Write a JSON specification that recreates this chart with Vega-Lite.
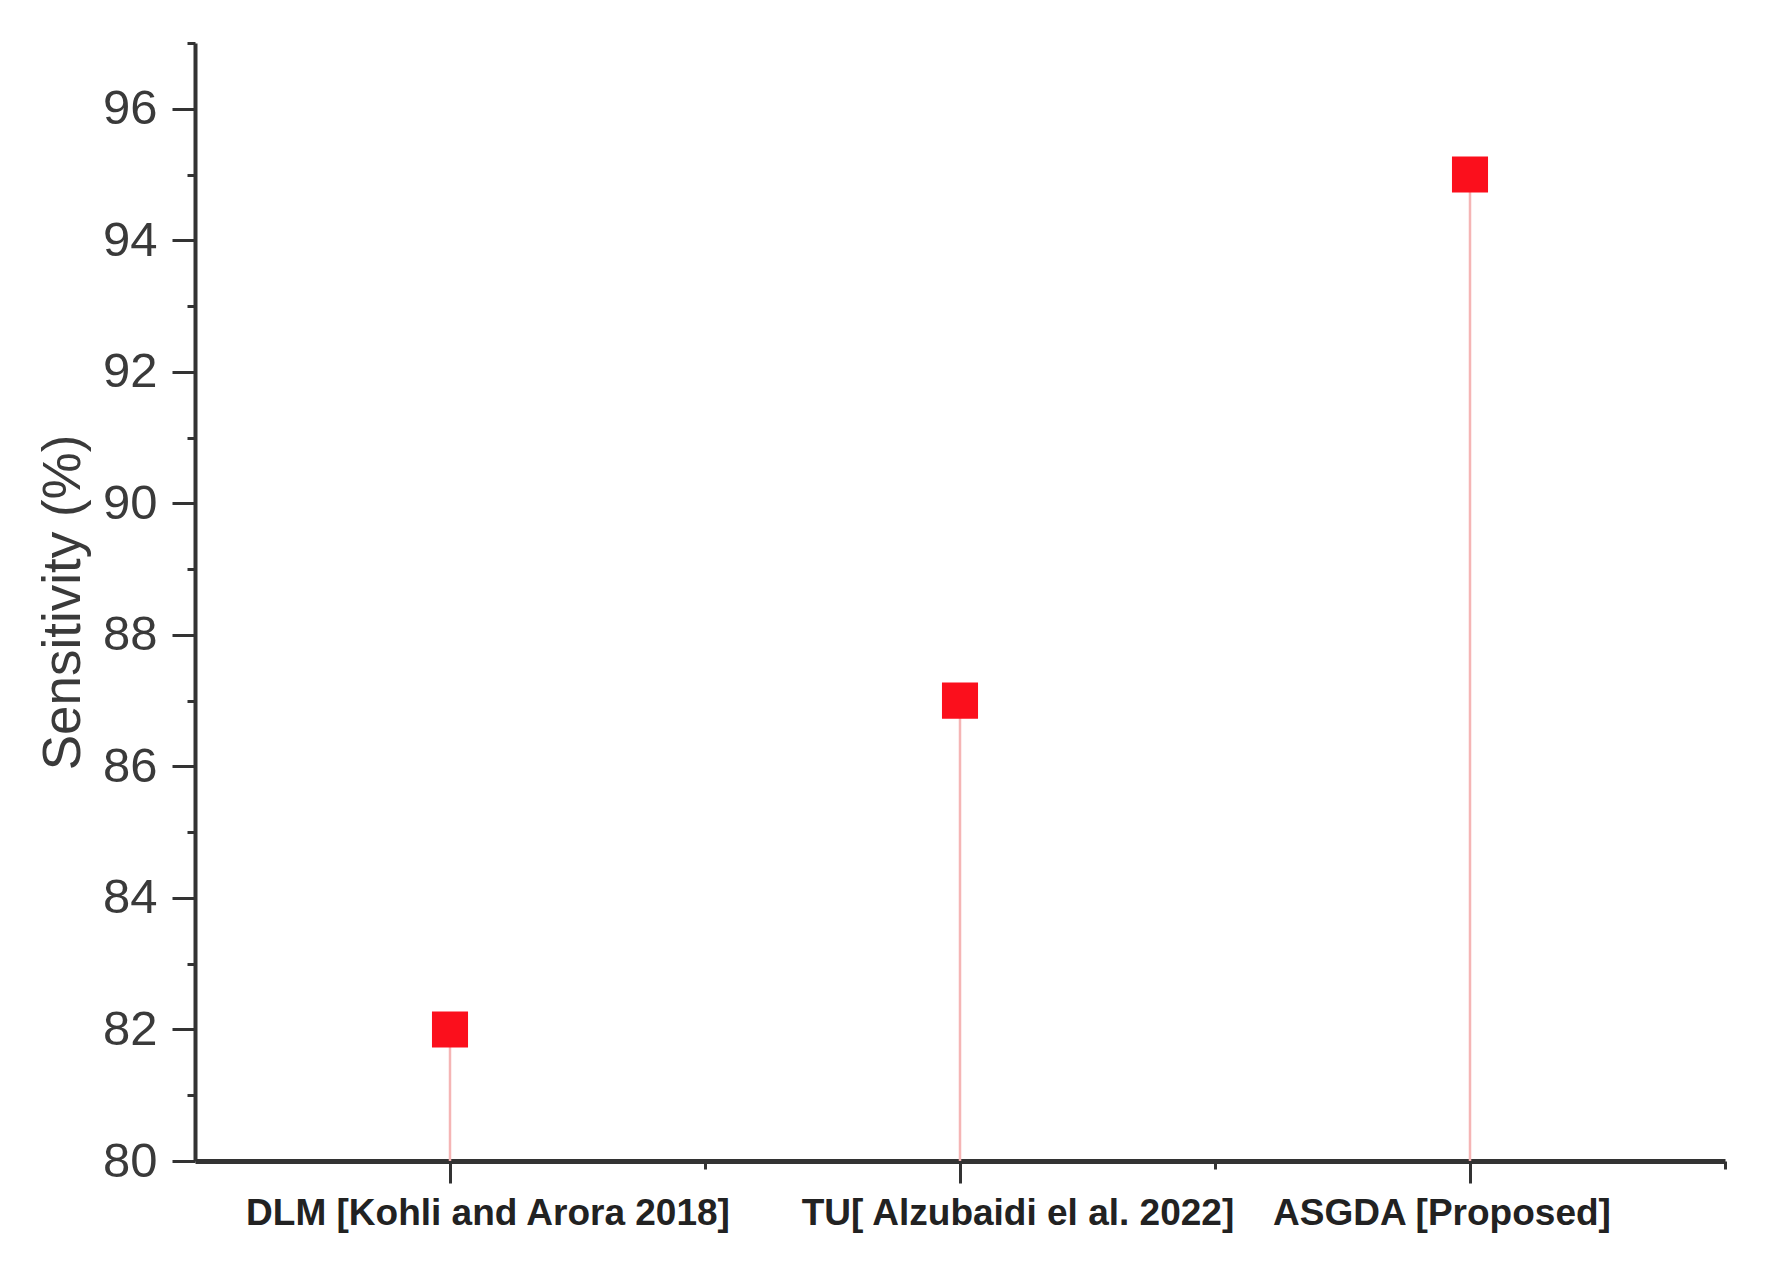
{
  "$schema": "https://vega.github.io/schema/vega-lite/v6.json",
  "autosize": {"type": "none"},
  "padding": {"left": 195, "top": 43, "right": 54, "bottom": 108},
  "width": 1530,
  "height": 1118,
  "background": "white",
  "config": {"view": {"stroke": null}, "font": "Liberation Sans"},
  "data": {"values": [
    {"method": "DLM [Kohli and Arora 2018]", "sensitivity": 82},
    {"method": "TU[ Alzubaidi el al. 2022]", "sensitivity": 87},
    {"method": "ASGDA [Proposed]", "sensitivity": 95}
  ]},
  "resolve": {"axis": {"x": "independent", "y": "independent"}},
  "layer": [
    {
      "mark": {"type": "rule", "color": "#f5b5b5", "strokeWidth": 2.5},
      "encoding": {
        "x": {"field": "method", "type": "nominal", "sort": null,
          "scale": {"type": "band", "paddingInner": 0, "paddingOuter": 0},
          "axis": {"orient": "bottom", "bandPosition": 1, "labels": false, "title": null, "domain": false, "grid": false, "ticks": true, "tickSize": 8, "tickWidth": 3, "tickColor": "#333333"}},
        "y": {"field": "sensitivity", "type": "quantitative",
          "scale": {"domain": [80, 97], "nice": false, "zero": false},
          "axis": {"orient": "left", "values": [81, 83, 85, 87, 89, 91, 93, 95, 97], "labels": false, "title": null, "domain": false, "grid": false, "tickSize": 8, "tickWidth": 3, "tickColor": "#333333"}},
        "y2": {"datum": 80}
      }
    },
    {
      "mark": {"type": "point", "shape": "square", "filled": true, "color": "#fb0f1c", "opacity": 1, "size": 1300},
      "encoding": {
        "x": {"field": "method", "type": "nominal", "sort": null,
          "axis": {"orient": "bottom", "bandPosition": 0.5, "labelAngle": 0, "title": null, "grid": false,
            "domain": true, "domainColor": "#333333", "domainWidth": 5,
            "tickSize": 22, "tickWidth": 3, "tickColor": "#333333",
            "labelFont": "Liberation Sans", "labelFontWeight": "bold", "labelFontSize": 37, "labelColor": "#222222", "labelPadding": 12, "labelLimit": 0, "labelOverlap": false,
            "labelOffset": {"expr": "datum.value == 'DLM [Kohli and Arora 2018]' ? 38 : datum.value == 'ASGDA [Proposed]' ? -28 : 58"}}},
        "y": {"field": "sensitivity", "type": "quantitative",
          "axis": {"orient": "left", "values": [80, 82, 84, 86, 88, 90, 92, 94, 96], "grid": false,
            "domain": true, "domainColor": "#333333", "domainWidth": 4,
            "tickSize": 23, "tickWidth": 3, "tickColor": "#333333",
            "labelFont": "Liberation Sans", "labelFontSize": 49, "labelColor": "#3a3a3a", "labelPadding": 15,
            "title": "Sensitivity (%)", "titleFont": "Liberation Sans", "titleFontSize": 53, "titleFontWeight": "normal", "titleColor": "#3a3a3a", "titlePadding": 12}}
      }
    }
  ]
}
